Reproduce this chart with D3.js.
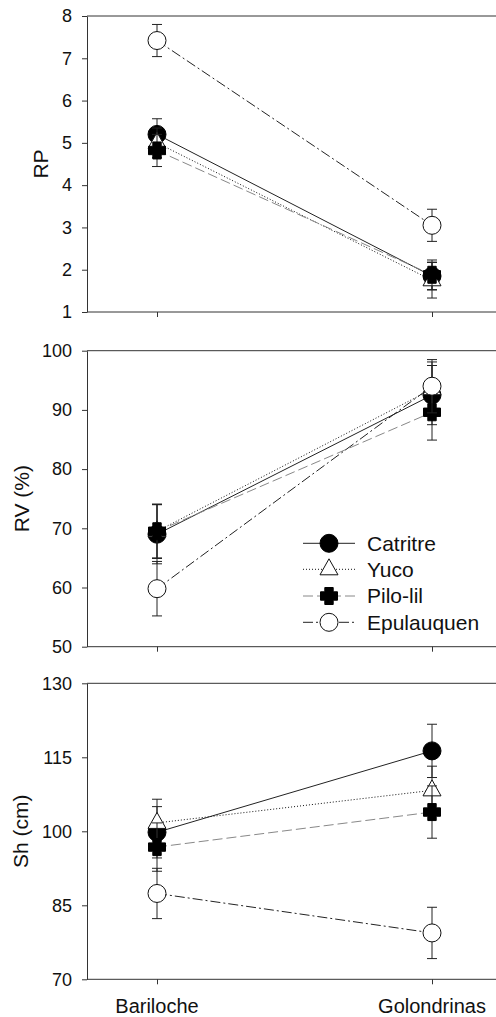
<!DOCTYPE html>
<html>
<head>
<meta charset="utf-8"/>
<title>RP, RV and Sh by site</title>
<script src="https://cdn.jsdelivr.net/npm/d3@7"></script>
<style>
  body { margin: 0; background: #fff; }
  text { font-family: "Liberation Sans", Arial, sans-serif; fill: #111; }
</style>
</head>
<body>
<div id="chart"></div>
<script>
    // categories
    var sites = ["Bariloche", "Golondrinas"];
    var populations = ["Catritre", "Yuco", "Pilo-lil", "Epulauquen"];

    // RP : one row per population (Bariloche, Golondrinas)
    var rpMean = [[5.20, 1.85], [5.00, 1.75], [4.82, 1.88], [7.42, 3.05]];
    var rpErr  = [[0.37, 0.33], [0.35, 0.42], [0.38, 0.35], [0.38, 0.38]];
    var rpTicks = [1, 2, 3, 4, 5, 6, 7, 8];

    // RV (%)
    var rvMean = [[69.0, 92.5], [69.5, 93.5], [69.5, 89.6], [59.8, 94.0]];
    var rvErr  = [[5.0, 5.0], [4.5, 4.6], [4.6, 4.7], [4.6, 4.5]];
    var rvTicks = [50, 60, 70, 80, 90, 100];

    // Sh (cm)
    var shMean = [[99.8, 116.3], [101.7, 108.3], [96.8, 103.9], [87.4, 79.4]];
    var shErr  = [[5.2, 5.4], [4.8, 4.9], [4.9, 5.3], [5.1, 5.2]];
    var shTicks = [70, 85, 100, 115, 130];

    var W = 496, H = 1017;
    var left = 87, right = 502;

    var svg = d3.select("#chart").append("svg")
        .attr("width", W)
        .attr("height", H);

    var x = d3.scalePoint().domain(sites).range([157, 432]);

    // line style + marker per population
    var lineStyle = [
        {stroke: "#222", dash: null},
        {stroke: "#111", dash: "1,2"},
        {stroke: "#888", dash: "10,4"},
        {stroke: "#222", dash: "10,3,2,3"}
    ];

    // chunky plus sign, like the original software draws it
    var a = 8.5, b = 4.2;
    var plusPath = "M" + (-b) + "," + (-a) + "H" + b + "V" + (-b) + "H" + a + "V" + b +
        "H" + b + "V" + a + "H" + (-b) + "V" + b + "H" + (-a) + "V" + (-b) + "H" + (-b) + "Z";

    function marker(g, i) {
        if (i == 0) {
            g.append("circle").attr("r", 9).attr("fill", "#000").attr("stroke", "#000");
        } else if (i == 1) {
            g.append("path").attr("d", "M0,-10.5L9,5.5L-9,5.5Z")
                .attr("fill", "#fff").attr("stroke", "#111").attr("stroke-width", 1);
        } else if (i == 2) {
            g.append("path").attr("d", plusPath)
                .attr("fill", "#000").attr("stroke", "#000").attr("stroke-linejoin", "round");
        } else {
            g.append("circle").attr("r", 9).attr("fill", "#fff")
                .attr("stroke", "#111").attr("stroke-width", 1);
        }
    }

    var panels = [
        {mean: rpMean, err: rpErr, ticks: rpTicks, dom: [1, 8], top: 16, bottom: 312, title: "RP", tx: 48},
        {mean: rvMean, err: rvErr, ticks: rvTicks, dom: [50, 100], top: 350.7, bottom: 646.7, title: "RV (%)", tx: 29},
        {mean: shMean, err: shErr, ticks: shTicks, dom: [70, 130], top: 683.3, bottom: 979.3, title: "Sh (cm)", tx: 28}
    ];

    panels.forEach(function(p, pi) {
        var y = d3.scaleLinear().domain(p.dom).range([p.bottom, p.top]);
        var g = svg.append("g");

        // frame
        g.append("line").attr("x1", left).attr("x2", right)
            .attr("y1", p.top).attr("y2", p.top)
            .attr("stroke", "#333");
        g.append("line").attr("x1", left).attr("x2", right)
            .attr("y1", p.bottom).attr("y2", p.bottom)
            .attr("stroke", "#333");

        var ya = g.append("g")
            .attr("transform", "translate(" + left + ",0)")
            .call(d3.axisLeft(y).tickValues(p.ticks).tickFormat(d3.format("d"))
                .tickSize(5).tickSizeOuter(0).tickPadding(10));
        ya.select(".domain").attr("stroke", "#333");
        ya.selectAll(".tick line").attr("stroke", "#333");
        ya.selectAll("text").style("font-size", "18px").attr("fill", "#111");

        var xa = g.append("g")
            .attr("transform", "translate(0," + p.bottom + ")")
            .call(d3.axisBottom(x).tickSize(5).tickSizeOuter(0).tickFormat(""));
        xa.select(".domain").remove();
        xa.selectAll(".tick line").attr("stroke", "#333");

        // y title
        g.append("text")
            .attr("transform", "translate(" + p.tx + "," + ((p.top + p.bottom) / 2) + ") rotate(-90)")
            .attr("text-anchor", "middle")
            .style("font-size", "21px")
            .text(p.title);

        var line = d3.line()
            .x(function(d, k) { return x(sites[k]); })
            .y(function(d) { return y(d); });

        populations.forEach(function(name, i) {
            var s = g.append("g");
            s.append("path")
                .attr("d", line(p.mean[i]))
                .attr("fill", "none")
                .attr("stroke", lineStyle[i].stroke)
                .attr("stroke-width", 1)
                .attr("stroke-dasharray", lineStyle[i].dash);

            p.mean[i].forEach(function(m, k) {
                var cx = x(sites[k]), e = p.err[i][k];
                s.append("line").attr("x1", cx).attr("x2", cx)
                    .attr("y1", y(m - e)).attr("y2", y(m + e))
                    .attr("stroke", "#222");
                [m - e, m + e].forEach(function(v) {
                    s.append("line").attr("x1", cx - 5).attr("x2", cx + 5)
                        .attr("y1", y(v)).attr("y2", y(v))
                        .attr("stroke", "#222");
                });
            });

            p.mean[i].forEach(function(m, k) {
                var mg = s.append("g").attr("transform", "translate(" + x(sites[k]) + "," + y(m) + ")");
                marker(mg, i);
            });
        });

        // legend sits inside the RV panel
        if (pi == 1) {
            var rows = [543.3, 569.3, 596, 622.3];
            populations.forEach(function(name, i) {
                var lg = svg.append("g").attr("transform", "translate(0," + rows[i] + ")");
                lg.append("line").attr("x1", 303).attr("x2", 355)
                    .attr("stroke", lineStyle[i].stroke)
                    .attr("stroke-dasharray", lineStyle[i].dash);
                var mg = lg.append("g").attr("transform", "translate(329,0)");
                marker(mg, i);
                lg.append("text").attr("x", 367).attr("dy", "0.35em")
                    .style("font-size", "21px")
                    .text(name);
            });
        }
    });

    // x labels under the last panel
    svg.selectAll(".site")
        .data(sites)
        .enter()
        .append("text")
        .attr("class", "site")
        .attr("x", function(d) { return x(d); })
        .attr("y", 1013)
        .attr("text-anchor", "middle")
        .style("font-size", "20px")
        .text(function(d) { return d; });
</script>
</body>
</html>
